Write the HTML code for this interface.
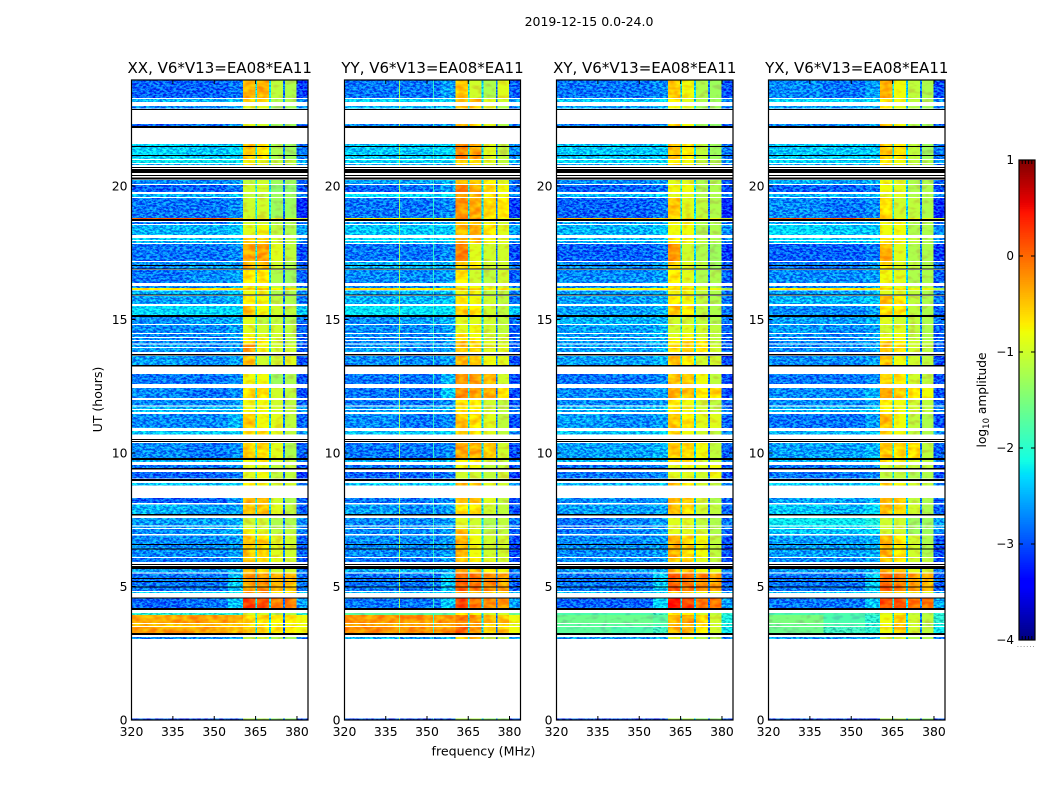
<!DOCTYPE html>
<html lang="en">
<head>
<meta charset="utf-8">
<title>2019-12-15 0.0-24.0 dynamic spectra</title>
<style>
html,body{margin:0;padding:0;background:#fff;}
svg{display:block;font-family:"DejaVu Sans","Liberation Sans",sans-serif;fill:#000;}
</style>
</head>
<body>
<svg id="figure" xmlns="http://www.w3.org/2000/svg" width="1050" height="800" viewBox="0 0 1050 800">
  <defs>
    <filter id="speckle" filterUnits="userSpaceOnUse" x="120" y="70" width="840" height="660" color-interpolation-filters="sRGB">
      <feTurbulence type="fractalNoise" baseFrequency="0.3 0.55" numOctaves="3" seed="7" result="n"/>
      <feColorMatrix in="n" type="matrix" values=".8 0 0 0 .1  4 0 0 0 -1.5  1 0 0 0 0  0 0 0 0 1" result="c"/>
      <feComposite in="SourceGraphic" in2="c" operator="arithmetic" k1="0" k2="1" k3=".5" k4="-.25" result="m"/>
      <feComposite in="m" in2="SourceAlpha" operator="in"/>
    </filter>
    <filter id="ripple" filterUnits="userSpaceOnUse" x="120" y="70" width="840" height="660" color-interpolation-filters="sRGB">
      <feTurbulence type="fractalNoise" baseFrequency="0.12 0.2" numOctaves="2" seed="11" result="n"/>
      <feColorMatrix in="n" type="matrix" values="0 0 0 0 .5  2 0 0 0 -.5  0 0 0 0 .5  0 0 0 0 1" result="c"/>
      <feComposite in="SourceGraphic" in2="c" operator="arithmetic" k1="0" k2="1" k3=".3" k4="-.15" result="m"/>
      <feComposite in="m" in2="SourceAlpha" operator="in"/>
    </filter>
  </defs>
  <text x="589" y="26" font-size="12.5" text-anchor="middle">2019-12-15 0.0-24.0</text>
  <text x="483.5" y="755.5" font-size="12.6" text-anchor="middle">frequency (MHz)</text>
  <text transform="translate(102,399.5) rotate(-90)" font-size="12.5" text-anchor="middle">UT (hours)</text>
  <text transform="translate(986,400) rotate(-90)" font-size="12.2" text-anchor="middle">log<tspan font-size="8.5" dy="3">10</tspan><tspan dy="-3"> amplitude</tspan></text>
  <g id="panels"></g>
  <g id="colorbar"></g>
</svg>
<script>
/* Time bands with data, in UT hours (gaps between them are unflagged white). */
const bandTopHours = [23.95,23.26,23.0,22.32,21.57,20.97,20.82,20.22,20.04,19.70,19.55,18.80,18.65,18.54,18.05,17.94,17.83,17.15,16.85,16.25,16.18,16.09,15.88,15.51,15.09,14.79,14.46,14.31,14.19,14.06,13.93,13.63,12.96,12.43,11.99,11.74,11.61,11.46,10.82,10.37,9.74,9.55,9.29,8.88,8.31,8.07,7.57,7.25,7.15,6.91,6.07,5.66,5.49,4.79,4.57,4.01,3.93,3.60,3.48,3.11,0.06];
const bandBottomHours = [23.30,23.15,22.90,22.25,21.01,20.86,20.79,20.07,19.78,19.59,18.80,18.76,18.58,18.16,17.98,17.87,17.19,16.89,16.37,16.18,16.10,15.92,15.58,15.17,14.83,14.49,14.34,14.23,14.10,13.97,13.78,13.30,12.58,12.06,11.78,11.65,11.54,10.94,10.69,9.81,9.66,9.44,9.04,8.78,8.13,7.72,7.28,7.19,6.97,6.10,5.92,5.52,4.83,4.76,4.19,3.93,3.63,3.52,3.26,3.03,0];
/* Fully flagged (black) integrations, UT hours. */
const flagTopHours = [22.88,22.25,21.50,21.16,20.71,20.64,20.41,20.32,18.76,17.04,16.91,15.94,15.17,13.71,13.30,10.52,10.45,9.81,9.44,9.03,7.72,6.59,6.42,5.84,5.77,5.32,5.21,5.00,4.59,4.19,3.26];
const flagBottomHours = [22.84,22.17,21.46,21.12,20.67,20.49,20.37,20.24,18.69,17.00,16.87,15.90,15.09,13.65,13.24,10.49,10.41,9.74,9.38,8.95,7.66,6.55,6.39,5.81,5.66,5.28,5.17,4.96,4.55,4.12,3.18];
/* Frequency zones in MHz: three background, four sub-bands, upper edge. */
const zoneStartMHz = [320,340,355,360.4,365.5,370.5,375.6,379.9];
const zoneEndMHz = [340,355,360.4,364.9,369.9,375,379.9,384];
/* Gaps between sub-bands and their log10 amplitude. */
const gapStartMHz = [364.9,369.9,375];
const gapEndMHz = [365.5,370.5,375.6];
const gapLevels = [-2.2,-2.3,-2.8];
/* log10 amplitude per band, per zone. */
const levelsXX = [
[-2.9,-2.9,-2.8,-.4,-.4,-1.1,-1.2,-3.1],[-2.5,-2.5,-2.4,-.6,-.6,-1.2,-1.2,-2.7],[-2.7,-2.7,-2.6,-.9,-.9,-1.3,-1.3,-2.7],[-2.9,-2.8,-2.6,-.9,-1,-1.3,-1.3,-2.9],
[-2.3,-2.4,-2.3,-.5,-.7,-1.2,-1.3,-2.8],[-2.2,-2.2,-2.2,-.8,-.9,-1.1,-1.1,-2.5],[-2.5,-2.5,-2.4,-.7,-.9,-1.1,-1.2,-2.7],[-2.7,-2.7,-2.6,-1.1,-1,-1.3,-1.3,-2.9],
[-2.9,-2.9,-2.8,-1,-1,-1.4,-1.4,-3],[-2.5,-2.5,-2.4,-1.1,-1.1,-1.3,-1.3,-2.7],[-2.8,-2.8,-2.7,-1,-1,-1.3,-1.3,-3.2],[.1,.1,-.2,-.8,-.8,-.8,-.8,-1],
[-2.8,-2.8,-2.6,-1,-1,-1.2,-1.2,-2.9],[-2.5,-2.5,-2.4,-.9,-.8,-1.1,-1.2,-2.6],[-2.4,-2.4,-2.3,-.6,-.5,-1,-1.1,-2.6],[-2.5,-2.5,-2.4,-.5,-.5,-1,-1.1,-2.7],
[-2.8,-2.8,-2.7,-.35,-.3,-.9,-1.1,-3],[-2.7,-2.6,-2.6,-.4,-.5,-1,-1.2,-2.9],[-2.8,-2.7,-2.6,-.7,-.7,-1.2,-1.3,-2.9],[-2.7,-2.7,-2.5,-.8,-.8,-1.1,-1.2,-2.8],
[-.7,-.7,-.6,-.5,-.5,-.7,-.7,-1.1],[-2.5,-2.5,-2.4,-.8,-.8,-1.2,-1.2,-2.7],[-2.6,-2.6,-2.5,-.7,-.8,-1.1,-1.2,-2.8],[-2.3,-2.3,-2.3,-.5,-.8,-1,-1.1,-2.4],
[-2.7,-2.6,-2.5,-.9,-1.1,-1.1,-1.2,-2.8],[-2.7,-2.7,-2.6,-.9,-1,-1,-1.1,-2.9],[-2.7,-2.7,-2.6,-.8,-.9,-1,-1.1,-2.9],[-2.7,-2.7,-2.6,-.7,-.8,-1,-1.1,-2.9],
[-2.7,-2.7,-2.6,-.5,-.7,-1,-1.1,-2.9],[-2.6,-2.7,-2.6,-.3,-.8,-1,-1,-2.9],[-2.6,-2.7,-2.6,-.3,-.8,-1,-1,-2.9],[-2.6,-2.7,-2.6,-.5,-1,-1,-.9,-3],
[-2.8,-2.8,-2.7,-.8,-.8,-1.3,-1.2,-3],[-2.7,-2.8,-2.7,-.6,-.6,-1,-1.1,-3],[-2.7,-2.7,-2.6,-.8,-.8,-1,-1.1,-2.9],[-2.5,-2.5,-2.5,-.8,-.8,-1,-1.1,-2.7],
[-2.5,-2.5,-2.5,-.8,-.8,-1,-1.1,-2.7],[-2.7,-2.7,-2.5,-.5,-.8,-.9,-1.1,-2.9],[-2.4,-2.4,-2.3,-.7,-.7,-.9,-1.1,-2.6],[-2.7,-2.8,-2.7,-.6,-.6,-.9,-1.2,-2.9],
[-2.5,-2.5,-2.4,-.8,-.7,-1,-1.1,-2.7],[-2.8,-2.8,-2.7,-.9,-.9,-1.1,-1.1,-3],[-2.9,-2.9,-2.8,-.9,-.8,-1.1,-1.1,-3.1],[-2.4,-2.4,-2.3,-.7,-.8,-1,-1,-2.7],
[-2.9,-2.9,-2.7,-.4,-.5,-1,-1.2,-2.9],[-2.5,-2.6,-2.6,-.5,-.5,-.9,-1.1,-2.9],[-2.6,-2.6,-2.5,-1,-1,-1.2,-1.2,-2.7],[-2.6,-2.6,-2.5,-.9,-1,-1.2,-1.2,-2.7],
[-2.7,-2.6,-2.5,-.8,-.9,-1.1,-1.1,-2.8],[-2.7,-2.7,-2.6,-.5,-.6,-.9,-1,-2.9],[-2.8,-2.8,-2.6,-.6,-.6,-.9,-1,-3],[-2.6,-2.6,-2.5,-.4,-.6,-1,-1,-2.8],
[-2.8,-2.8,-2.4,-.3,-.2,-.4,-.5,-2.8],[-2.3,-2.3,-2.2,-.3,-.3,-.7,-.7,-2.5],[-2.9,-2.8,-2.4,.2,.1,-.1,-.1,-2.6],[-2,-2,-2,-1,-1,-1.2,-1.2,-2],
[-.35,-.3,-.4,-.6,-.6,-.7,-.7,-.8],[-.45,-.45,-.5,-.7,-.7,-.8,-.8,-.8],[-.3,-.35,-.4,-.5,-.6,-.7,-.7,-.8],[-2.7,-2.7,-2.6,-1.1,-1,-1.2,-1.3,-2.8],
[-3,-3,-3,-1.2,-1.2,-1.4,-1.4,-3.1]];
const levelsYY = [
[-2.8,-2.8,-2.6,-.5,-1,-1.2,-.9,-2.9],[-2.3,-2.3,-2.3,-.6,-.4,-.9,-1,-2.6],[-2.5,-2.5,-2.4,-.5,-.5,-.9,-1.2,-2.7],[-2.7,-2.7,-2.6,-.4,-.6,-.9,-1.2,-2.8],
[-2.4,-2.4,-2.3,-.2,-.3,-.9,-1.1,-2.7],[-2.3,-2.3,-2.3,-.5,-.6,-.9,-1.1,-2.5],[-2.5,-2.5,-2.4,-.6,-.7,-1,-1.1,-2.7],[-2.6,-2.6,-2.5,-.4,-.5,-.7,-.9,-2.8],
[-2.9,-2.8,-2.6,-.1,-.35,-.6,-.8,-2.9],[-2.3,-2.3,-2.2,-.3,-.4,-.7,-.8,-2.7],[-2.8,-2.8,-2.7,-.25,-.35,-.6,-.7,-3.1],[-.7,-.8,-.9,-.2,-.2,-.6,-.8,-1.3],
[-2.6,-2.6,-2.5,-.5,-.6,-.8,-1,-2.8],[-2.4,-2.4,-2.4,-.4,-.35,-.7,-.9,-2.6],[-2.3,-2.3,-2.3,-.4,-.4,-.8,-.9,-2.6],[-2.4,-2.4,-2.4,-.4,-.5,-.8,-.9,-2.7],
[-2.8,-2.8,-2.7,-.15,-.9,-1,-1,-3],[-2.5,-2.5,-2.5,-.5,-.7,-1,-1,-2.8],[-2.7,-2.7,-2.6,-.7,-1,-1.1,-1,-2.9],[-2.7,-2.7,-2.5,-.8,-.8,-1,-1,-2.8],
[-.6,-.7,-.6,-.5,-.5,-.7,-.7,-1.1],[-2.5,-2.5,-2.4,-.8,-.8,-1.1,-1.1,-2.7],[-2.5,-2.5,-2.4,-.7,-.8,-1,-1.1,-2.8],[-2.25,-2.25,-2.25,-.5,-.7,-1,-1.1,-2.4],
[-2.7,-2.6,-2.5,-.9,-.9,-1,-1.1,-2.8],[-2.7,-2.7,-2.6,-.9,-.8,-1,-1.1,-2.9],[-2.7,-2.7,-2.6,-.7,-.8,-1,-1,-2.9],[-2.7,-2.7,-2.6,-.7,-.7,-1,-1,-2.9],
[-2.7,-2.7,-2.6,-.5,-.6,-.9,-1,-2.9],[-2.6,-2.7,-2.6,-.5,-.6,-.9,-.9,-2.9],[-2.6,-2.7,-2.6,-.5,-.6,-.9,-.9,-2.9],[-2.7,-2.7,-2.6,-.4,-.5,-.8,-.9,-3],
[-2.8,-2.8,-2.5,-.2,-.3,-.4,-1,-3],[-2.8,-2.8,-2.4,-.2,-.3,-.4,-.7,-3],[-2.8,-2.8,-2.7,-.6,-.7,-1,-1.1,-3],[-2.6,-2.6,-2.5,-.7,-.7,-1,-1.1,-2.8],
[-2.6,-2.6,-2.5,-.7,-.7,-1,-1.1,-2.8],[-2.7,-2.8,-2.7,-.5,-.6,-.9,-1.1,-3],[-2.4,-2.4,-2.3,-.5,-.7,-.9,-1.1,-2.7],[-2.8,-2.8,-2.7,-.35,-.4,-.5,-1,-3],
[-2.5,-2.5,-2.4,-.7,-.7,-1,-1.1,-2.7],[-2.8,-2.8,-2.6,-.8,-.8,-1.1,-1.1,-3],[-2.9,-2.9,-2.8,-1,-1,-1.1,-1,-3.1],[-2.4,-2.4,-2.3,-.4,-.5,-.9,-1,-2.7],
[-2.8,-2.8,-2.7,-.5,-.5,-.9,-1.1,-3],[-2.6,-2.7,-2.6,-.7,-.7,-1,-1.1,-3],[-2.7,-2.7,-2.6,-.9,-1,-1.2,-1.1,-2.8],[-2.7,-2.7,-2.6,-.9,-1,-1.2,-1.1,-2.8],
[-2.7,-2.7,-2.6,-.5,-.9,-1.1,-1.1,-2.9],[-2.7,-2.7,-2.6,-.4,-.8,-1,-1,-3],[-2.8,-2.8,-2.6,-.5,-.7,-.9,-1,-3],[-2.5,-2.5,-2.5,-.3,-.5,-.7,-.8,-2.8],
[-2.8,-2.8,-2.4,.05,-.05,-.2,-.3,-2.9],[-2.4,-2.4,-2.3,-.3,-.4,-.6,-.7,-2.6],[-2.8,-2.8,-2.4,.15,.0,-.2,-.2,-2.6],[-1.7,-1.7,-1.7,-.7,-.8,-1,-1,-1.6],
[-.25,-.25,-.3,-.1,-.25,-.5,-.5,-.8],[-.35,-.35,-.35,-.2,-.3,-.6,-.6,-.9],[-.2,-.25,-.25,0,-.2,-.5,-.5,-.8],[-2.5,-2.6,-2.5,-.5,-.4,-1.1,-1.1,-2.6],
[-3,-3,-3,-1.2,-1.2,-1.4,-1.4,-3.1]];
const levelsXY = [
[-2.8,-2.8,-2.7,-.5,-.8,-1.2,-1.3,-3],[-2.4,-2.4,-2.3,-.7,-.9,-1.2,-1.3,-2.7],[-2.6,-2.6,-2.5,-.8,-.9,-1.3,-1.3,-2.8],[-2.8,-2.8,-2.6,-.6,-.8,-1.3,-1.4,-2.9],
[-2.4,-2.4,-2.4,-.5,-.7,-1.1,-1.3,-2.8],[-2.3,-2.3,-2.3,-.7,-.8,-1.1,-1.2,-2.6],[-2.5,-2.5,-2.4,-.6,-.8,-1.1,-1.2,-2.8],[-2.7,-2.7,-2.6,-.9,-.9,-1.2,-1.2,-2.9],
[-2.9,-2.9,-2.8,-.8,-.8,-1.2,-1.2,-3],[-2.5,-2.5,-2.4,-.9,-.9,-1.2,-1.2,-2.7],[-2.9,-2.9,-2.8,-.5,-.9,-1.1,-1.2,-3.2],[-.4,-.4,-.5,-.6,-.6,-.8,-.8,-1],
[-2.6,-2.6,-2.5,-.8,-.8,-1.2,-1.2,-2.8],[-2.5,-2.5,-2.4,-.8,-.8,-1.2,-1.2,-2.7],[-2.5,-2.5,-2.4,-.7,-.8,-1.1,-1.2,-2.7],[-2.5,-2.5,-2.4,-.7,-.8,-1.1,-1.2,-2.7],
[-2.9,-2.9,-2.8,-.25,-1,-1.2,-1.3,-3.1],[-2.7,-2.7,-2.6,-.6,-.9,-1.1,-1.3,-2.9],[-2.7,-2.7,-2.6,-.7,-.9,-1.2,-1.2,-2.9],[-2.7,-2.7,-2.5,-.7,-.8,-1.1,-1.2,-2.9],
[-.8,-.8,-.7,-.6,-.6,-.8,-.8,-1.2],[-2.6,-2.6,-2.5,-.8,-.8,-1.1,-1.2,-2.8],[-2.6,-2.6,-2.5,-.7,-.8,-1.1,-1.2,-2.8],[-2.6,-2.6,-2.5,-.5,-.7,-1.1,-1.2,-2.8],
[-2.5,-2.5,-2.5,-1,-1,-1.1,-1.2,-2.8],[-2.6,-2.6,-2.5,-1,-.9,-1,-1.1,-2.9],[-2.6,-2.6,-2.5,-.9,-.8,-1,-1.1,-2.9],[-2.6,-2.6,-2.5,-.8,-.7,-.9,-1.1,-2.9],
[-2.6,-2.6,-2.5,-.7,-.6,-.7,-1.1,-2.9],[-2.6,-2.6,-2.5,-.6,-.6,-.7,-1,-2.9],[-2.6,-2.6,-2.5,-.6,-.6,-.7,-1,-2.9],[-2.6,-2.6,-2.5,-.5,-.7,-1,-1,-3],
[-2.8,-2.8,-2.7,-.5,-.5,-.8,-1.1,-3],[-2.7,-2.7,-2.6,-.4,-.5,-.7,-.6,-3],[-2.7,-2.7,-2.6,-.7,-.8,-1,-1.1,-2.9],[-2.5,-2.5,-2.4,-.7,-.8,-1,-1.1,-2.8],
[-2.5,-2.5,-2.4,-.7,-.8,-1,-1.1,-2.8],[-2.6,-2.7,-2.6,-.5,-.7,-.9,-.9,-2.9],[-2.4,-2.4,-2.3,-.6,-.8,-1,-1.1,-2.7],[-2.6,-2.6,-2.5,-.5,-.6,-.8,-1.1,-2.9],
[-2.5,-2.5,-2.4,-.7,-.7,-1,-1.1,-2.7],[-2.8,-2.8,-2.7,-.9,-.8,-.9,-.8,-3],[-2.8,-2.8,-2.7,-.9,-.9,-1,-.8,-3],[-2.5,-2.5,-2.4,-.5,-.7,-1,-1.1,-2.7],
[-2.7,-2.7,-2.6,-.4,-.5,-1,-1.2,-2.9],[-2.6,-2.6,-2.6,-.5,-.6,-1,-1.1,-2.9],[-2.8,-2.7,-2.6,-.9,-.9,-1.1,-1.2,-2.8],[-2.8,-2.7,-2.6,-.9,-.9,-1.1,-1.2,-2.8],
[-2.8,-2.7,-2.6,-.9,-.9,-1,-1.2,-2.9],[-2.7,-2.7,-2.6,-.4,-.6,-.8,-1.1,-3],[-2.7,-2.7,-2.6,-.5,-.6,-.9,-1.1,-3],[-2.6,-2.6,-2.5,-.4,-.5,-.8,-.9,-2.8],
[-2.8,-2.8,-2.4,.05,-.05,-.2,-.3,-2.9],[-2.4,-2.4,-2.3,-.5,-.5,-.8,-.9,-2.6],[-2.9,-2.9,-2.3,.45,.2,-.1,-.05,-2.6],[-1.8,-1.8,-1.9,-.7,-.7,-1,-1.1,-2],
[-1.6,-1.6,-1.7,-.4,-.3,-.6,-1,-2.1],[-1.7,-1.7,-1.8,-.5,-.4,-.7,-1,-2.1],[-1.7,-1.8,-1.9,-.4,-.4,-.7,-1,-2.2],[-2.6,-2.6,-2.5,-.9,-.9,-1.2,-1.2,-2.8],
[-3,-3,-3,-1.2,-1.2,-1.4,-1.4,-3.1]];
const levelsYX = [
[-2.7,-2.8,-2.6,-.4,-.8,-1.1,-1.2,-3],[-2.3,-2.3,-2.3,-.7,-.8,-1.1,-1.2,-2.7],[-2.6,-2.6,-2.5,-.7,-.9,-1.2,-1.3,-2.8],[-2.7,-2.7,-2.6,-.5,-.8,-1.2,-1.3,-2.9],
[-2.4,-2.4,-2.4,-.5,-.7,-1.1,-1.3,-2.8],[-2.3,-2.3,-2.3,-.7,-.8,-1.1,-1.2,-2.6],[-2.5,-2.5,-2.4,-.7,-.8,-1.1,-1.2,-2.8],[-2.5,-2.6,-2.5,-.8,-.9,-1.2,-1.2,-2.9],
[-2.9,-2.9,-2.8,-.8,-.9,-1.2,-1.2,-3],[-2.5,-2.5,-2.4,-.9,-.9,-1.2,-1.2,-2.7],[-2.7,-2.8,-2.7,-.6,-1,-1.1,-1.2,-3.2],[.1,.1,-.4,-.6,-.6,-.8,-.8,-1],
[-2.6,-2.6,-2.5,-.8,-.8,-1.2,-1.2,-2.8],[-2.3,-2.4,-2.4,-.8,-.8,-1.2,-1.2,-2.7],[-2.3,-2.3,-2.3,-.7,-.8,-1.1,-1.2,-2.7],[-2.4,-2.4,-2.3,-.7,-.8,-1.1,-1.2,-2.7],
[-2.9,-2.9,-2.8,-.4,-.9,-1.2,-1.2,-3.1],[-2.8,-2.8,-2.6,-.6,-.9,-1.1,-1.2,-2.9],[-2.7,-2.7,-2.6,-.8,-.9,-1.2,-1.2,-2.9],[-2.7,-2.7,-2.5,-.8,-.9,-1.1,-1.2,-2.9],
[-.7,-.7,-.7,-.6,-.6,-.8,-.8,-1.2],[-2.6,-2.6,-2.5,-.9,-.9,-1.1,-1.2,-2.8],[-2.5,-2.5,-2.4,-.5,-.7,-1.1,-1.2,-2.8],[-2.7,-2.7,-2.6,-.6,-.7,-1.1,-1.2,-2.9],
[-2.6,-2.6,-2.5,-.9,-1,-1.1,-1.2,-2.8],[-2.6,-2.7,-2.6,-1,-.9,-1.1,-1.2,-2.9],[-2.7,-2.7,-2.6,-.9,-.8,-1.1,-1.2,-2.9],[-2.7,-2.7,-2.6,-.8,-.8,-1.1,-1.2,-2.9],
[-2.7,-2.7,-2.6,-.6,-.7,-1,-1.1,-2.9],[-2.7,-2.7,-2.6,-.5,-.7,-1,-1.1,-2.9],[-2.7,-2.7,-2.6,-.5,-.7,-1,-1.1,-2.9],[-2.7,-2.7,-2.6,-.5,-.8,-1,-1.1,-3],
[-2.8,-2.8,-2.7,-.6,-.6,-1,-1.1,-3],[-2.7,-2.7,-2.5,-.35,-.5,-.7,-.8,-3],[-2.7,-2.7,-2.6,-.7,-.8,-1,-1.1,-2.9],[-2.5,-2.5,-2.4,-.7,-.8,-1,-1.1,-2.8],
[-2.5,-2.5,-2.4,-.7,-.8,-1,-1.1,-2.8],[-2.8,-2.8,-2.6,-.45,-.8,-1.1,-1.2,-3],[-2.5,-2.5,-2.4,-.6,-.8,-1.1,-1.2,-2.7],[-2.6,-2.6,-2.5,-.5,-.6,-.6,-1.1,-2.9],
[-2.5,-2.5,-2.4,-.7,-.8,-1,-1.1,-2.7],[-2.8,-2.8,-2.7,-1,-1,-1.1,-1.1,-3],[-2.8,-2.8,-2.7,-1.1,-1.1,-1.2,-1.2,-3],[-2.4,-2.4,-2.3,-.6,-.8,-1,-1.1,-2.7],
[-2.6,-2.6,-2.5,-.4,-.6,-1.1,-1.2,-2.9],[-2.4,-2.5,-2.3,-.5,-.6,-1,-1.2,-2.9],[-2.2,-2.2,-2.1,-1,-1,-1.3,-1.3,-2.6],[-2.3,-2.3,-2.2,-1,-1,-1.3,-1.3,-2.6],
[-2.4,-2.4,-2.3,-1,-1,-1.3,-1.3,-2.7],[-2.6,-2.6,-2.5,-.4,-.7,-1,-1.2,-3],[-2.7,-2.7,-2.6,-.5,-.7,-1,-1.1,-3],[-2.6,-2.6,-2.5,-.4,-.6,-.9,-1,-2.8],
[-2.8,-2.8,-2.4,0,-.1,-.3,-.4,-2.9],[-2.4,-2.4,-2.3,-.5,-.5,-.8,-.9,-2.6],[-2.8,-2.8,-2.4,.15,.1,-.1,-.05,-2.5],[-1.8,-1.8,-1.9,-.9,-.8,-1.1,-1.2,-2],
[-1.5,-1.8,-2,-.8,-.5,-1,-1.1,-2],[-1.6,-1.8,-2,-.8,-.5,-1,-1.2,-2.1],[-1.6,-1.9,-2,-.8,-.5,-1,-1.1,-2.2],[-2.6,-2.6,-2.5,-1,-1,-1.2,-1.2,-2.8],
[-3,-3,-3,-1.2,-1.2,-1.4,-1.4,-3.1]];
/* Narrow RFI channels seen in YY only. */
const spikeMHz = [339.8,352.2];
const spikeLevels = [-1.3,-2.0];
/* Axis tick values. */
const xTickValues = [320,335,350,365,380];
const yTickValues = [0,5,10,15,20];
const colorbarTickValues = [1,0,-1,-2,-3,-4];
const colorbarMinorTicks = [0.2,0.4,0.6,0.8];
const panelTitles = ['XX, V6*V13=EA08*EA11','YY, V6*V13=EA08*EA11','XY, V6*V13=EA08*EA11','YX, V6*V13=EA08*EA11'];
const panelLevels = [levelsXX,levelsYY,levelsXY,levelsYX];

const NS = 'http://www.w3.org/2000/svg';
const panelLeft = [131.5,344.5,556.5,768.5];
const panelWidth = [176.5,176,176.5,176.5];
const axisTop = 80, axisBottom = 720;
const hourMax = 23.97, mhzMin = 320, mhzMax = 384;
const vMin = -4, vMax = 1;

function interp(stops, t){
  for(let i=1;i<stops.length;i++){
    if(t<=stops[i][0]){
      const a=stops[i-1],b=stops[i];
      return a[1]+(b[1]-a[1])*(t-a[0])/(b[0]-a[0]);
    }
  }
  return stops[stops.length-1][1];
}
const jetR=[[0,0],[.35,0],[.66,1],[.89,1],[1,.5]];
const jetG=[[0,0],[.125,0],[.375,1],[.64,1],[.91,0],[1,0]];
const jetB=[[0,.5],[.11,1],[.34,1],[.65,0],[1,0]];
function jet(v){
  const t=Math.max(0,Math.min(1,(v-vMin)/(vMax-vMin)));
  return 'rgb('+Math.round(255*interp(jetR,t))+','+Math.round(255*interp(jetG,t))+','+Math.round(255*interp(jetB,t))+')';
}
function xScale(p,mhz){return panelLeft[p]+(mhz-mhzMin)/(mhzMax-mhzMin)*panelWidth[p];}
function yScale(h){return axisBottom-h/hourMax*(axisBottom-axisTop);}
function cbY(v){return 160+(vMax-v)/(vMax-vMin)*480;}
function make(tag,attrs,parent){
  const el=document.createElementNS(NS,tag);
  for(const k in attrs){el.setAttribute(k,attrs[k]);}
  parent.appendChild(el);
  return el;
}
function cell(group,p,m0,m1,hTop,hBot,v){
  const r=make('rect',{x:xScale(p,m0),y:yScale(hTop),width:xScale(p,m1)-xScale(p,m0),height:yScale(hBot)-yScale(hTop),fill:jet(v)},group);
  
  
}
function tickLine(parent,x1,y1,x2,y2){
  const l=make('line',{x1:x1,y1:y1,x2:x2,y2:y2,stroke:'#000','stroke-width':1},parent);
  
  
}
function label(parent,x,y,anchor,str,size){
  const t=make('text',{x:x,y:y,'text-anchor':anchor,'font-size':size},parent);
  t.textContent=str;
  
  
}

const root=document.getElementById('panels');
panelLevels.forEach(function(levels,p){
  const g=make('g',{},root);
  
  
  const speck=make('g',{filter:'url(#speckle)','shape-rendering':'crispEdges'},g);
  
  
  const smooth=make('g',{filter:'url(#ripple)','shape-rendering':'crispEdges'},g);
  
  
  levels.forEach(function(row,b){
    row.forEach(function(v,z){
      cell(v<-1.8?speck:smooth,p,zoneStartMHz[z],zoneEndMHz[z],bandTopHours[b],bandBottomHours[b],v);
    });
    gapLevels.forEach(function(v,k){
      cell(speck,p,gapStartMHz[k],gapEndMHz[k],bandTopHours[b],bandBottomHours[b],v);
    });
    if(p===1){
      spikeMHz.forEach(function(m,k){
        cell(smooth,p,m,m+0.35,bandTopHours[b],bandBottomHours[b],spikeLevels[k]);
      });
    }
  });
  const flags=make('g',{'shape-rendering':'crispEdges'},g);
  
  
  flagTopHours.forEach(function(h,k){
    const r=make('rect',{x:xScale(p,mhzMin),y:yScale(h),width:panelWidth[p],height:yScale(flagBottomHours[k])-yScale(h),fill:'#000'},flags);
    
    
  });
  const frame=make('rect',{x:panelLeft[p],y:axisTop,width:panelWidth[p],height:axisBottom-axisTop,fill:'none',stroke:'#000','stroke-width':1.2},g);
  
  
  xTickValues.forEach(function(m){
    const x=xScale(p,m);
    tickLine(g,x,axisBottom,x,axisBottom-4);
    tickLine(g,x,axisTop,x,axisTop+4);
    label(g,x,axisBottom+16,'middle',String(m),12.4);
  });
  yTickValues.forEach(function(h){
    const y=yScale(h);
    tickLine(g,panelLeft[p],y,panelLeft[p]+4,y);
    tickLine(g,panelLeft[p]+panelWidth[p],y,panelLeft[p]+panelWidth[p]-4,y);
    label(g,panelLeft[p]-4,y+4.5,'end',String(h),12.4);
  });
  const t=make('text',{x:panelLeft[p]+panelWidth[p]/2,y:73,'text-anchor':'middle','font-size':15},g);
  t.textContent=panelTitles[p];
  
  
});

const cb=document.getElementById('colorbar');
const cbSteps=256, cbLeft=1019, cbWidth=16;
const ramp=make('g',{'shape-rendering':'crispEdges'},cb);


for(let i=0;i<cbSteps;i++){
  const v0=vMax-(vMax-vMin)*i/cbSteps, v1=vMax-(vMax-vMin)*(i+1)/cbSteps;
  const r=make('rect',{x:cbLeft,y:cbY(v0),width:cbWidth,height:cbY(v1)-cbY(v0)+.5,fill:jet((v0+v1)/2)},ramp);
  
  
}
const cbFrame=make('rect',{x:cbLeft,y:160,width:cbWidth,height:480,fill:'none',stroke:'#000','stroke-width':1.2},cb);


colorbarTickValues.forEach(function(v){
  const y=cbY(v);
  tickLine(cb,cbLeft,y,cbLeft+4,y);
  tickLine(cb,cbLeft+cbWidth,y,cbLeft+cbWidth-4,y);
  label(cb,cbLeft-5,y+4,'end',(v<0?'\u2212':'')+Math.abs(v),12);
});
colorbarMinorTicks.forEach(function(f){
  const x=cbLeft+f*cbWidth;
  tickLine(cb,x,160,x,164);
  tickLine(cb,x,640,x,636);
});
const dots=make('text',{x:cbLeft+cbWidth/2-1,y:647,'text-anchor':'middle','font-size':8,fill:'#888','letter-spacing':'0.6'},cb);
dots.textContent='......';


</script>
</body>
</html>
